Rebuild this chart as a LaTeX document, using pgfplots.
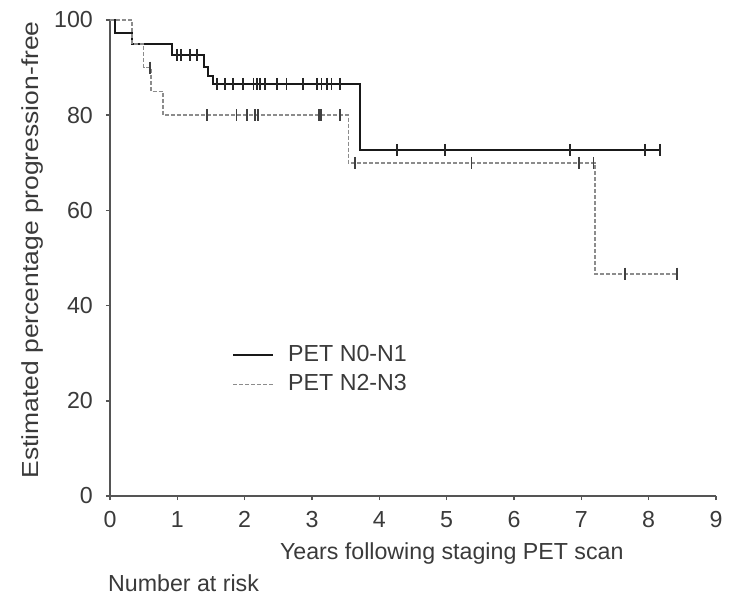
\documentclass[border=0pt]{standalone}
\usepackage{fontspec}
\setmainfont{Liberation Sans}
\usepackage{pgfplots}
\pgfplotsset{compat=1.18}
\definecolor{txt}{HTML}{3A3A3A}
\definecolor{axc}{HTML}{555555}
\definecolor{dgr}{HTML}{8C8C8C}
\newcommand\lfont{\fontsize{11.6}{14}\selectfont}
\begin{document}
\begin{tikzpicture}
\lfont
\path[use as bounding box] (-55pt,-53pt) rectangle (309.5pt,248pt);
\begin{axis}[
  scale only axis, width=303pt, height=238pt,
  xmin=0, xmax=9, ymin=0, ymax=100,
  axis x line*=bottom, axis y line*=left,
  axis line style={axc, line width=1pt, -},
  xtick={0,1,...,9}, ytick={0,20,...,100},
  tick align=outside, major tick length=2pt,
  tick style={axc, line width=0.8pt},
  tick label style={font=\lfont, text=txt},
  xticklabel style={yshift=-1.5pt},
  yticklabel style={xshift=-2.5pt},
  /pgf/number format/assume math mode=true,
  clip=false,
  xlabel={Years following staging PET scan},
  ylabel={\scalebox{1.14}[1]{Estimated percentage progression-free}},
  every axis x label/.style={at={(rel axis cs:0.564,0)}, yshift=-28.5pt, anchor=center, text=txt, font=\lfont},
  every axis y label/.style={at={(rel axis cs:0,0.517)}, xshift=-38.5pt, rotate=90, anchor=center, text=txt, font=\lfont},
  legend style={draw=none, fill=none, at={(axis cs:1.72,33.5)}, anchor=north west, font=\lfont, text=txt, row sep=1pt},
  legend cell align=left,
  legend image code/.code={\draw[#1] (0pt,0pt) -- (20pt,0pt); \path (25pt,0pt);},
]
\addlegendimage{black!90, line width=1pt}
\addlegendentry{PET N0-N1}
\addlegendimage{dgr, line width=0.8pt, dash pattern=on 2pt off 1pt}
\addlegendentry{PET N2-N3}

% PET N0-N1 (solid)
\addplot[const plot, black!90, line width=1pt, forget plot] coordinates {
(0,100) (0.07,97.3) (0.32,95) (0.92,92.7) (1.39,90.2) (1.46,88.3) (1.53,86.6) (3.72,72.7) (8.17,72.7)};
% PET N2-N3 (dashed)
\addplot[const plot, dgr, line width=0.8pt, dash pattern=on 2pt off 1pt, forget plot] coordinates {
(0,100) (0.33,95) (0.5,90) (0.61,85) (0.79,80) (3.54,70) (7.2,46.7) (8.42,46.7)};

% censored, N0-N1
\addplot[only marks, mark=|, mark size=3pt, mark options={black!85, line width=0.9pt}, forget plot] coordinates {
(0.99,92.7) (1.06,92.7) (1.19,92.7) (1.29,92.7)
(1.59,86.6) (1.71,86.6) (1.83,86.6) (1.98,86.6) (2.13,86.6) (2.18,86.6) (2.23,86.6) (2.30,86.6) (2.48,86.6) (2.62,86.6) (2.87,86.6) (3.07,86.6) (3.14,86.6) (3.22,86.6) (3.29,86.6) (3.42,86.6)
(4.26,72.7) (4.98,72.7) (6.83,72.7) (7.95,72.7) (8.17,72.7)};
% censored, N2-N3
\addplot[only marks, mark=|, mark size=3pt, mark options={black!75, line width=0.9pt}, forget plot] coordinates {
(0.59,90)
(1.44,80) (1.88,80) (2.03,80) (2.15,80) (2.20,80) (3.10,80) (3.13,80) (3.42,80)
(3.64,70) (5.37,70) (6.96,70) (7.18,70)
(7.65,46.7) (8.42,46.7)};
\end{axis}
\node[anchor=west, text=txt, font=\lfont] at (-5pt,-43.5pt) {Number at risk};
\end{tikzpicture}
\end{document}
